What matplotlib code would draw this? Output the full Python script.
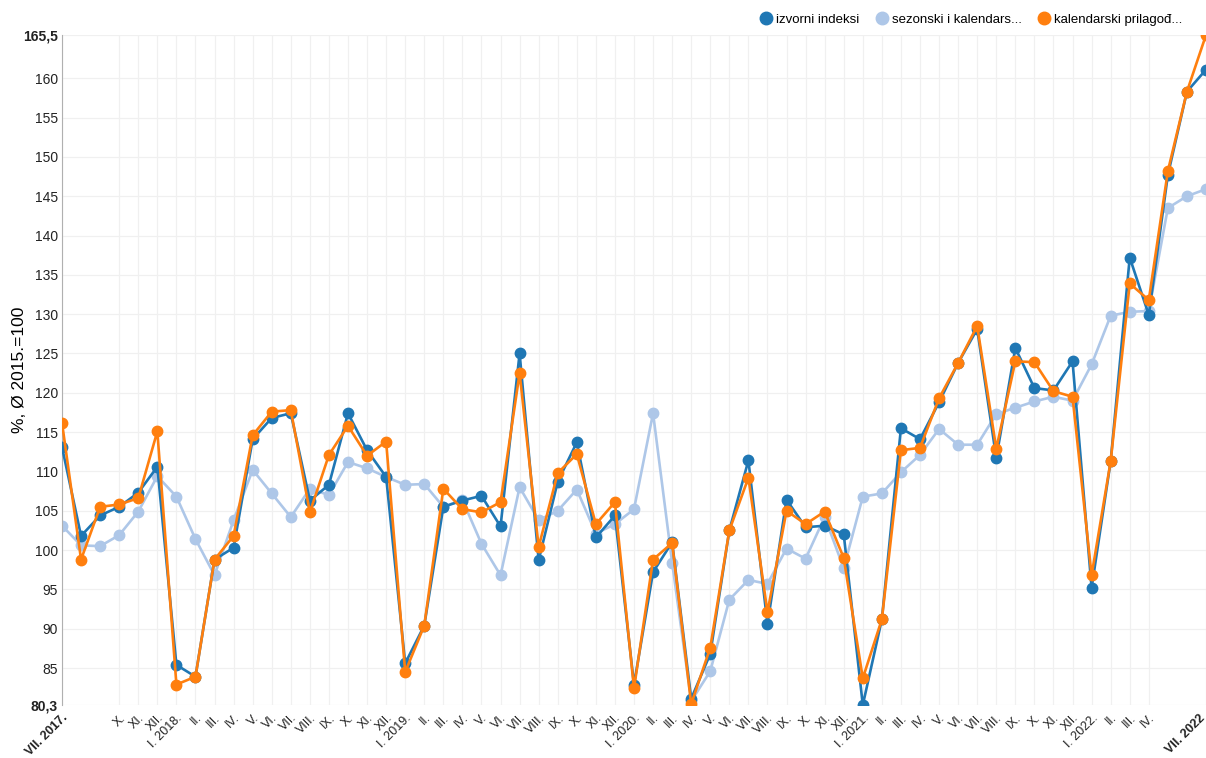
import matplotlib
matplotlib.use('Agg')
import matplotlib.pyplot as plt
import matplotlib.transforms as mtransforms
from matplotlib.lines import Line2D

plt.rcParams['font.family'] = ['Liberation Sans', 'DejaVu Sans']

# monthly index values, VII. 2017 - VII. 2022
izvorni = [113.1, 101.8, 104.4, 105.5, 107.3, 110.6, 85.4, 83.9, 98.8, 100.3,
           114.1, 116.8, 117.4, 106.3, 108.3, 117.4, 112.7, 109.3, 85.6, 90.4,
           105.5, 106.3, 106.9, 103.0, 125.0, 98.7, 108.7, 113.7, 101.6, 104.4,
           82.9, 97.2, 101.0, 81.1, 86.8, 102.5, 111.4, 90.6, 106.4, 102.9,
           103.1, 102.0, 80.3, 91.2, 115.5, 114.1, 118.8, 123.8, 128.1, 111.7,
           125.7, 120.6, 120.3, 124.0, 95.2, 111.3, 137.2, 129.9, 147.7, 158.3,
           161.1]
sezonski = [103.1, 100.6, 100.5, 101.9, 104.9, 109.4, 106.8, 101.4, 96.8, 103.8,
            110.2, 107.2, 104.2, 107.8, 107.0, 111.2, 110.4, 109.3, 108.3, 108.4,
            105.5, 106.4, 100.8, 96.8, 108.0, 103.8, 105.0, 107.7, 102.1, 103.3,
            105.2, 117.4, 98.4, 80.8, 84.6, 93.7, 96.2, 95.7, 100.2, 98.9,
            104.2, 97.7, 106.8, 107.2, 109.9, 112.1, 115.4, 113.4, 113.4, 117.3,
            118.1, 118.9, 119.5, 119.0, 123.6, 129.8, 130.3, 130.4, 143.5, 145.0,
            145.9]
kalendarski = [116.2, 98.8, 105.5, 105.8, 106.6, 115.1, 82.9, 83.9, 98.8, 101.8,
               114.6, 117.6, 117.8, 104.8, 112.1, 115.8, 112.0, 113.8, 84.5, 90.4,
               107.8, 105.2, 104.8, 106.1, 122.5, 100.4, 109.8, 112.2, 103.3, 106.1,
               82.4, 98.8, 100.9, 80.4, 87.6, 102.5, 109.2, 92.1, 105.0, 103.3,
               104.9, 99.0, 83.7, 91.2, 112.7, 113.0, 119.3, 123.8, 128.5, 112.9,
               124.0, 123.9, 120.2, 119.5, 96.8, 111.3, 133.9, 131.8, 148.2, 158.3,
               165.5]

roman = ['I.', 'II.', 'III.', 'IV.', 'V.', 'VI.', 'VII.', 'VIII.', 'IX.', 'X.', 'XI.', 'XII.']
months = []
for k in range(61):
    m = (6 + k) % 12
    y = 2017 + (6 + k) // 12
    months.append(roman[m] + (' %d.' % y if m == 0 else ''))
months[0] = 'VII. 2017.'
months[-1] = 'VII. 2022'
shown = [0] + list(range(3, 58)) + [60]

legend_names = ['izvorni indeksi', 'sezonski i kalendars...', 'kalendarski prilagođ...']
colors = ['#1f77b4', '#aec7e8', '#ff7f0e']

fig = plt.figure(figsize=(12.06, 7.58), dpi=100)
ax = fig.add_axes([62 / 1206, 1 - 705 / 758, 1 - 62 / 1206, (705 - 35) / 758])

x = list(range(len(izvorni)))
ax.plot(x, sezonski, color=colors[1], lw=1.9, marker='o', ms=7.5, zorder=2)
ax.plot(x, izvorni, color=colors[0], lw=1.9, marker='o', ms=7.5, zorder=3)
ax.plot(x, kalendarski, color=colors[2], lw=1.9, marker='o', ms=7.5, zorder=4)

ax.set_xlim(0, 60)
ax.set_ylim(80.3, 165.5)

ax.tick_params(axis='y', length=0, pad=3)
ax.tick_params(axis='x', length=0, pad=5)

yt = [80.3] + list(range(85, 161, 5)) + [165.5]
ax.set_yticks(yt)
ax.set_yticklabels([('%g' % v).replace('.', ',') for v in yt], fontsize=10, color='#222222')
ax.get_yticklabels()[0].set_fontweight('bold')
ax.get_yticklabels()[-1].set_fontweight('bold')

ax.set_xticks(shown)
ax.set_xticklabels([months[i] for i in shown], rotation=45, ha='right',
                   rotation_mode='anchor', fontsize=9, color='#222222')
xl = ax.get_xticklabels()
xl[0].set_fontweight('bold')
xl[-1].set_fontweight('bold')
# last label sits at the right edge, nudge it left so it stays inside
xl[-1].set_transform(xl[-1].get_transform() +
                     mtransforms.ScaledTranslation(-7 / 100, 0, fig.dpi_scale_trans))

ax.grid(True, color='#f0f0f0', lw=0.9)
ax.set_axisbelow(True)
for s in ['top', 'right', 'bottom']:
    ax.spines[s].set_visible(False)
ax.spines['left'].set_color('#b0b0b0')

ax.set_ylabel('%, Ø 2015.=100', fontsize=12.5)
ax.yaxis.set_label_coords(-35 / 1144, 0.5)

handles = [Line2D([], [], color=c, marker='o', ls='', ms=9) for c in colors]
fig.legend(handles, legend_names, loc='upper right', bbox_to_anchor=(0.99, 0.998),
           ncol=3, frameon=False, fontsize=9.5, handletextpad=0.35, columnspacing=1.3,
           handlelength=0.8)

fig.savefig('out.png', dpi=100)
